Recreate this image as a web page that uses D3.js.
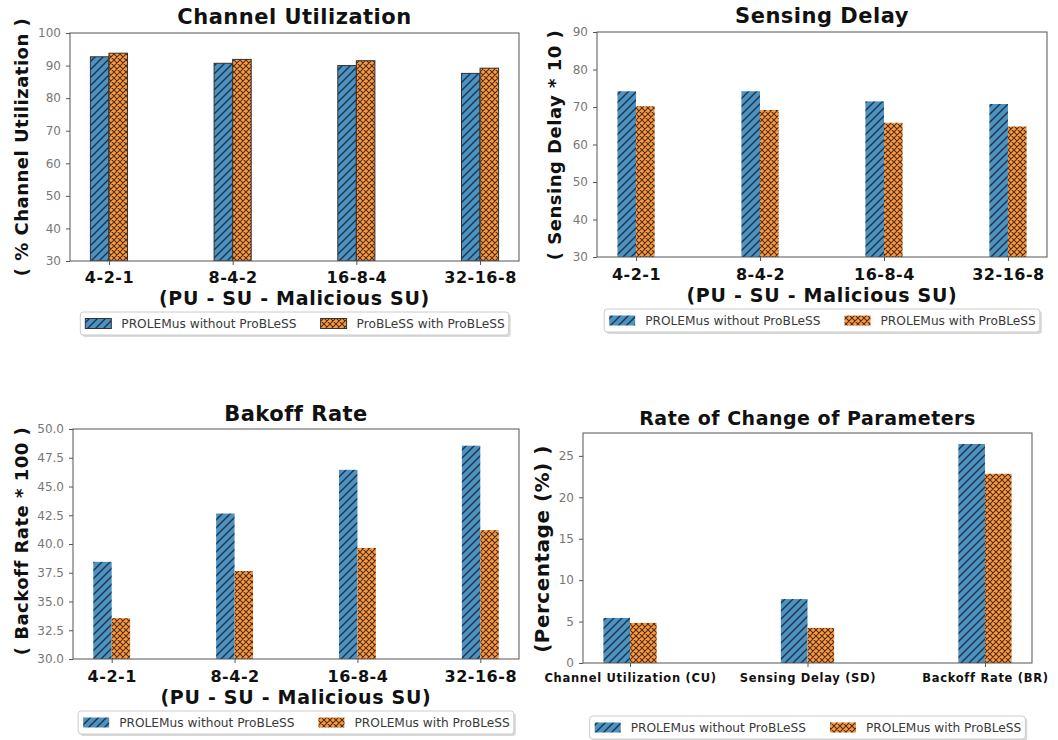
<!DOCTYPE html>
<html>
<head>
<meta charset="utf-8">
<script src="https://cdn.jsdelivr.net/npm/d3@7"></script>
<style>
  html, body { margin: 0; padding: 0; background: #fff; }
  svg { display: block; font-family: "DejaVu Sans", sans-serif; }
</style>
</head>
<body>
<svg id="fig" width="1058" height="740"></svg>
<script>
// Network configurations (PU - SU - Malicious SU)
const netCategories = ["4-2-1", "8-4-2", "16-8-4", "32-16-8"];

// Channel utilization (%)
const cuWithout = [92.7, 90.7, 90.0, 87.6];
const cuWith = [93.8, 91.9, 91.5, 89.2];
const cuTicks = [30, 40, 50, 60, 70, 80, 90, 100];

// Sensing delay (* 10)
const sdWithout = [74.2, 74.2, 71.5, 70.8];
const sdWith = [70.2, 69.2, 65.8, 64.8];
const sdTicks = [30, 40, 50, 60, 70, 80, 90];

// Backoff rate (* 100)
const brWithout = [38.45, 42.65, 46.45, 48.55];
const brWith = [33.55, 37.65, 39.65, 41.2];
const brTicks = [30, 32.5, 35, 37.5, 40, 42.5, 45, 47.5, 50];

// Rate of change of parameters (%)
const rocCategories = ["Channel Utilization (CU)", "Sensing Delay (SD)", "Backoff Rate (BR)"];
const rocWithout = [5.44, 7.72, 26.44];
const rocWith = [4.84, 4.24, 22.84];
const rocTicks = [0, 5, 10, 15, 20, 25];

const legendWithout = "PROLEMus without ProBLeSS";
const legendWithCU = "ProBLeSS with ProBLeSS";
const legendWith = "PROLEMus with ProBLeSS";

const svg = d3.select("#fig");
const BLUE = "#4c92c3";
const ORANGE = "#fc983f";
const BAR_W = 0.15;

// hatch patterns
const defs = svg.append("defs");
const diag = defs.append("pattern").attr("id", "hatchDiag")
  .attr("patternUnits", "userSpaceOnUse").attr("width", 8).attr("height", 8);
diag.append("rect").attr("width", 8).attr("height", 8).attr("fill", BLUE);
diag.append("path").attr("d", "M-2,2 L2,-2 M0,8 L8,0 M6,10 L10,6")
  .attr("stroke", "#16222e").attr("stroke-width", 1.4).attr("stroke-opacity", 0.85);

const cross = defs.append("pattern").attr("id", "hatchCross")
  .attr("patternUnits", "userSpaceOnUse").attr("width", 6).attr("height", 6);
cross.append("rect").attr("width", 6).attr("height", 6).attr("fill", ORANGE);
cross.append("path").attr("d", "M0,0 L6,6 M6,0 L0,6 M-1,5 L1,7 M5,-1 L7,1 M-1,1 L1,-1 M5,7 L7,5")
  .attr("stroke", "#2a1a0a").attr("stroke-width", 1.05).attr("stroke-opacity", 0.85);

function drawPanel(o) {
  const g = svg.append("g");
  const n = o.categories.length;
  const x = d3.scaleLinear()
    .domain([-BAR_W - 0.05 * (n - 1 + 2 * BAR_W), n - 1 + BAR_W + 0.05 * (n - 1 + 2 * BAR_W)])
    .range([o.left, o.right]);
  const y = d3.scaleLinear().domain(o.yDomain).range([o.bottom, o.top]);

  const clipId = "clip" + o.id;
  defs.append("clipPath").attr("id", clipId)
    .append("rect").attr("x", o.left).attr("y", o.top)
    .attr("width", o.right - o.left).attr("height", o.bottom - o.top);

  const bars = g.append("g").attr("clip-path", `url(#${clipId})`);
  const series = [
    { values: o.without, offset: -BAR_W, fill: "url(#hatchDiag)" },
    { values: o.withv, offset: 0, fill: "url(#hatchCross)" }
  ];
  series.forEach(s => {
    bars.selectAll(null).data(s.values).enter().append("rect")
      .attr("x", (d, i) => x(i + s.offset))
      .attr("width", (d, i) => x(i + s.offset + BAR_W) - x(i + s.offset))
      .attr("y", d => y(d))
      .attr("height", d => y(o.yDomain[0]) - y(d))
      .attr("fill", s.fill)
      .attr("stroke", o.edge ? "#333" : "none")
      .attr("stroke-width", o.edge ? 1 : 0);
  });

  // y axis
  const yAxis = d3.axisLeft(y).tickValues(o.yTicks).tickSize(4).tickPadding(5)
    .tickFormat(o.yFormat || d3.format("d"));
  const ya = g.append("g").attr("transform", `translate(${o.left},0)`).call(yAxis);
  ya.select(".domain").remove();
  ya.selectAll("line").attr("stroke", "#555");
  ya.selectAll("text").attr("fill", "#777").style("font-size", "12px")
    .style("font-family", "DejaVu Sans");

  // x axis
  const xAxis = d3.axisBottom(x).tickValues(d3.range(n)).tickSize(4).tickPadding(0)
    .tickFormat(i => o.categories[i]);
  const xa = g.append("g").attr("transform", `translate(0,${o.bottom})`).call(xAxis);
  xa.select(".domain").remove();
  xa.selectAll("line").attr("stroke", "#555");
  xa.selectAll("text").attr("fill", "#111")
    .attr("y", null).attr("dy", null)
    .attr("transform", `translate(0,${o.catBaseline - o.bottom})`)
    .style("font-size", o.catSize + "px").style("font-weight", "bold")
    .style("font-family", "DejaVu Sans")
    .style("letter-spacing", o.catSpacing || "0px");

  // frame
  g.append("rect").attr("x", o.left).attr("y", o.top)
    .attr("width", o.right - o.left).attr("height", o.bottom - o.top)
    .attr("fill", "none").attr("stroke", "#555").attr("stroke-width", 1);

  // title
  g.append("text").attr("x", (o.left + o.right) / 2).attr("y", o.titleBaseline)
    .attr("text-anchor", "middle").style("font-size", o.titleSize + "px")
    .style("font-weight", "bold").style("letter-spacing", o.titleSpacing || "0.5px")
    .attr("fill", "#111").text(o.title);

  // y label
  g.append("text")
    .attr("transform", `translate(${o.yLabelX},${o.yLabelY}) rotate(-90)`)
    .attr("text-anchor", "middle").style("font-size", o.yLabelSize + "px")
    .style("font-weight", "bold").style("letter-spacing", "0.5px")
    .attr("fill", "#111").text(o.yLabel);

  // x label
  if (o.xLabel) {
    g.append("text").attr("x", (o.left + o.right) / 2).attr("y", o.xLabelBaseline)
      .attr("text-anchor", "middle").style("font-size", "19px")
      .style("font-weight", "bold").style("letter-spacing", "0.7px")
      .attr("fill", "#111").text(o.xLabel);
  }

  // legend
  const lg = g.append("g");
  const patchW = 26, patchH = 10, gap = 10, colGap = 24, pad = 4;
  const t1 = lg.append("text").style("font-size", "12.2px").attr("fill", "#3a3a3a").text(o.legend[0]);
  const t2 = lg.append("text").style("font-size", "12.2px").attr("fill", "#3a3a3a").text(o.legend[1]);
  const w1 = t1.node().getComputedTextLength();
  const w2 = t2.node().getComputedTextLength();
  const lw = pad + patchW + gap + w1 + colGap + patchW + gap + w2 + pad + 1;
  const lx = (o.left + o.right) / 2 - lw / 2;
  const ly = o.legendTop, lh = 23;
  lg.insert("rect", ":first-child").attr("x", lx + 2).attr("y", ly + 2)
    .attr("width", lw).attr("height", lh).attr("rx", 3)
    .attr("fill", "#d9d9d9");
  lg.insert("rect", "text").attr("x", lx).attr("y", ly)
    .attr("width", lw).attr("height", lh).attr("rx", 3)
    .attr("fill", "#fff").attr("stroke", "#ccc").attr("stroke-width", 1);
  const cy = ly + lh / 2;
  const p1x = lx + pad + 1;
  lg.append("rect").attr("x", p1x).attr("y", cy - patchH / 2)
    .attr("width", patchW).attr("height", patchH).attr("fill", "url(#hatchDiag)")
    .attr("stroke", o.edge ? "#333" : "none");
  t1.attr("x", p1x + patchW + gap).attr("y", cy + 4.5);
  const p2x = p1x + patchW + gap + w1 + colGap;
  lg.append("rect").attr("x", p2x).attr("y", cy - patchH / 2)
    .attr("width", patchW).attr("height", patchH).attr("fill", "url(#hatchCross)")
    .attr("stroke", o.edge ? "#333" : "none");
  t2.attr("x", p2x + patchW + gap).attr("y", cy + 4.5);
}

drawPanel({
  id: 1, categories: netCategories, without: cuWithout, withv: cuWith,
  yDomain: [30, 100], yTicks: cuTicks, edge: true,
  left: 70, right: 519, top: 33, bottom: 261,
  title: "Channel Utilization", titleSize: 21, titleBaseline: 24,
  yLabel: "( % Channel Utilization )", yLabelX: 28, yLabelY: 147, yLabelSize: 18,
  catBaseline: 283, catSize: 16, catSpacing: "0.5px",
  xLabel: "(PU - SU - Malicious SU)", xLabelBaseline: 305,
  legend: [legendWithout, legendWithCU], legendTop: 312
});

drawPanel({
  id: 2, categories: netCategories, without: sdWithout, withv: sdWith,
  yDomain: [30, 90], yTicks: sdTicks, edge: false,
  left: 597, right: 1047, top: 32, bottom: 257,
  title: "Sensing Delay", titleSize: 21, titleBaseline: 23,
  yLabel: "( Sensing Delay * 10 )", yLabelX: 561, yLabelY: 145, yLabelSize: 18,
  catBaseline: 280, catSize: 16, catSpacing: "0.5px",
  xLabel: "(PU - SU - Malicious SU)", xLabelBaseline: 302,
  legend: [legendWithout, legendWith], legendTop: 309
});

drawPanel({
  id: 3, categories: netCategories, without: brWithout, withv: brWith,
  yDomain: [30, 50], yTicks: brTicks, yFormat: d3.format(".1f"), edge: false,
  left: 73, right: 519, top: 429, bottom: 659,
  title: "Bakoff Rate", titleSize: 21, titleBaseline: 421,
  yLabel: "( Backoff Rate * 100 )", yLabelX: 28, yLabelY: 541, yLabelSize: 18,
  catBaseline: 682, catSize: 16, catSpacing: "0.5px",
  xLabel: "(PU - SU - Malicious SU)", xLabelBaseline: 704,
  legend: [legendWithout, legendWith], legendTop: 711
});

drawPanel({
  id: 4, categories: rocCategories, without: rocWithout, withv: rocWith,
  yDomain: [0, d3.max(rocWithout.concat(rocWith)) * 1.05], yTicks: rocTicks, edge: false,
  left: 583, right: 1032, top: 433, bottom: 663,
  title: "Rate of Change of Parameters", titleSize: 19, titleBaseline: 425,
  yLabel: "(Percentage (%) )", yLabelX: 549, yLabelY: 549, yLabelSize: 20,
  catBaseline: 682, catSize: 11.5, catSpacing: "0.7px",
  xLabel: null,
  legend: [legendWithout, legendWith], legendTop: 716
});
</script>
</body>
</html>
